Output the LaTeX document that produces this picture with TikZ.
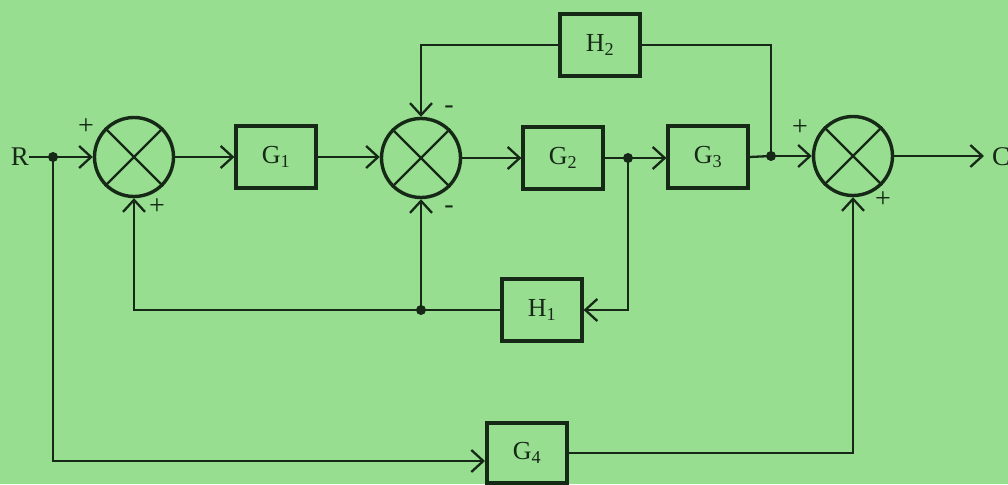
\documentclass[tikz,border=0pt]{standalone}
\usepackage{fontspec}
\setmainfont{Liberation Serif}
\usetikzlibrary{arrows.meta}
\definecolor{bg}{RGB}{152,222,145}
\definecolor{ink}{RGB}{22,40,22}
\begin{document}
\begin{tikzpicture}[x=1pt,y=-1pt,
  blk/.style={draw=ink,line width=3.2pt,minimum width=80pt,minimum height=62pt,inner sep=0pt,font=\fontsize{26}{26}\selectfont,text=ink},
  sumj/.style={draw=ink,circle,line width=3.4pt,minimum size=79pt,inner sep=0pt},
  wire/.style={draw=ink,line width=2.3pt},
  arr/.style={wire,-{Straight Barb[length=12pt,width=22pt,line width=2.3pt]}},
  sgn/.style={text=ink,font=\fontsize{28}{28}\selectfont,inner sep=0pt},
  dot/.style={circle,fill=ink,inner sep=0pt,minimum size=10pt}]
\fill[bg] (0,0) rectangle (1008,484);
\useasboundingbox (0,0) rectangle (1008,484);
% junctions
\node[sumj] (j1) at (134,157) {};
\node[sumj] (j2) at (421,158) {};
\node[sumj] (j3) at (853,156) {};
\foreach \j in {j1,j2,j3}{
  \draw[ink,line width=2.2pt] (\j.45) -- (\j.225);
  \draw[ink,line width=2.2pt] (\j.135) -- (\j.315);
}
% blocks
\node[blk] (G1) at (276,157) {G\textsubscript{1}};
\node[blk] (G2) at (563,158) {G\textsubscript{2}};
\node[blk] (G3) at (708,157) {G\textsubscript{3}};
\node[blk] (H2) at (600,45) {H\textsubscript{2}};
\node[blk] (H1) at (542,310) {H\textsubscript{1}};
\node[blk,minimum height=60pt] (G4) at (527,453) {G\textsubscript{4}};
% labels
\node[text=ink,font=\fontsize{27}{27}\selectfont,inner sep=0pt] (R) at (20,157) {R};
\node[text=ink,font=\fontsize{27}{27}\selectfont,inner sep=0pt,anchor=west] (C) at (992,157) {C};
% signs
\node[sgn] (s1) at (86,127) {+};
\node[sgn] (s2) at (157,207) {+};
\node[sgn] (s3) at (449,110) {-};
\node[sgn] (s4) at (449,210) {-};
\node[sgn] (s5) at (800,128) {+};
\node[sgn] (s6) at (883,200) {+};
% dots
\node[dot] (d1) at (53,157) {};
\node[dot] (d2) at (628,158) {};
\node[dot] (d3) at (771,156) {};
\node[dot] (d4) at (421,310) {};
\coordinate (out) at (984,156);
\coordinate (g4in) at (485,461);
% forward path
\draw[arr] (R.east) -- (j1.west);
\draw[arr] (j1.east) -- (G1.west);
\draw[arr] (G1.east) -- (j2.west |- G1.east);
\draw[arr] (j2.east) -- (G2.west);
\draw[wire] (G2.east) -- (d2.center);
\draw[arr] (d2.center) -- (G3.west |- d2.center);
\draw[wire] (G3.east) -- (d3.center);
\draw[arr] (d3.center) -- (j3.west);
\draw[arr] (j3.east) -- (out);
% H2 loop
\draw[wire] (d3.center) |- (H2.east);
\draw[arr] (H2.west) -| (j2.north);
% H1 loop
\draw[arr] (d2.center) |- (H1.east);
\draw[wire] (H1.west) -- (d4.center);
\draw[arr] (d4.center) -- (j2.south);
\draw[arr] (d4.center) -| (j1.south);
% G4 path
\draw[arr] (d1.center) |- (g4in);
\draw[arr] (G4.east) -| (j3.south);
\end{tikzpicture}
\end{document}
